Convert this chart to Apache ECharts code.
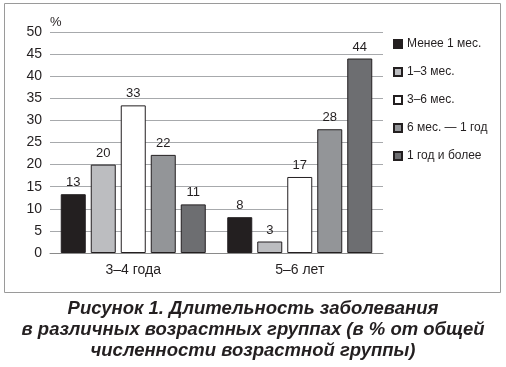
<!DOCTYPE html>
<html><head><meta charset="utf-8">
<script src="https://cdn.jsdelivr.net/npm/echarts@6/dist/echarts.min.js"></script>
<style>html,body{margin:0;padding:0;background:#fff}#c{width:506px;height:367px}</style>
</head><body><div id="c"></div>
<script>
const categories = ['3–4 года', '5–6 лет'];
const seriesNames = ['Менее 1 мес.', '1–3 мес.', '3–6 мес.', '6 мес. — 1 год', '1 год и более'];
const lessThan1 = [13.3, 8.1];
const m1to3 = [20.0, 2.6];
const m3to6 = [33.4, 17.2];
const m6to12 = [22.2, 28.0];
const y1plus = [11.0, 44.0];
const valueLabels = [[13, 8], [20, 3], [33, 17], [22, 28], [11, 44]];
const yTicks = [0, 5, 10, 15, 20, 25, 30, 35, 40, 45, 50];
const colors = ['#231f20', '#bcbdc0', '#ffffff', '#939598', '#6d6e71'];
const allData = [lessThan1, m1to3, m3to6, m6to12, y1plus];

const chart = echarts.init(document.getElementById('c'), null, {renderer: 'canvas'});
const font = 'Liberation Sans, Arial, sans-serif';
chart.setOption({
  animation: false,
  title: {
    text: 'Рисунок 1. Длительность заболевания\nв различных возрастных группах (в % от общей\nчисленности возрастной группы)',
    left: 'center', top: 293,
    textStyle: {fontFamily: font, fontSize: 18.5, fontWeight: 'bold', fontStyle: 'italic', color: '#231f20', lineHeight: 21}
  },
  legend: {
    orient: 'vertical', left: 388, top: 33, itemWidth: 8, itemHeight: 8, itemGap: 16,
    icon: 'rect',
    textStyle: {fontFamily: font, fontSize: 12, color: '#231f20', padding: [0, 0, 0, 0]},
    data: seriesNames
  },
  grid: {left: 50, right: 123, top: 32, bottom: 114},
  xAxis: {
    type: 'category', data: categories,
    axisLine: {lineStyle: {color: '#8a8a8a', width: 1}},
    axisTick: {show: false},
    axisLabel: {fontFamily: font, fontSize: 14, color: '#231f20', margin: 10}
  },
  yAxis: {
    type: 'value', min: 0, max: 50, interval: 5,
    name: '%', nameLocation: 'end', nameGap: 10,
    nameTextStyle: {fontFamily: font, fontSize: 13, color: '#231f20', align: 'left', verticalAlign: 'middle'},
    axisLine: {show: false}, axisTick: {show: false},
    axisLabel: {fontFamily: font, fontSize: 14, color: '#231f20', margin: 8,
      formatter: v => yTicks.includes(v) ? String(v) : ''},
    splitLine: {lineStyle: {color: '#a7a9ac', width: 1}}
  },
  series: seriesNames.map((n, i) => ({
    name: n, type: 'bar', data: allData[i], barWidth: 25, barGap: '20%',
    itemStyle: {color: colors[i], borderColor: '#231f20', borderWidth: 1},
    label: {show: true, position: 'top', distance: 5, fontFamily: font, fontSize: 13, color: '#231f20',
      formatter: p => String(valueLabels[i][p.dataIndex])}
  })),
  graphic: [{
    type: 'rect', shape: {x: 4.5, y: 3.5, width: 496, height: 289}, silent: true,
    style: {fill: 'none', stroke: '#9a9a9a', lineWidth: 1}
  }]
});
</script></body></html>
